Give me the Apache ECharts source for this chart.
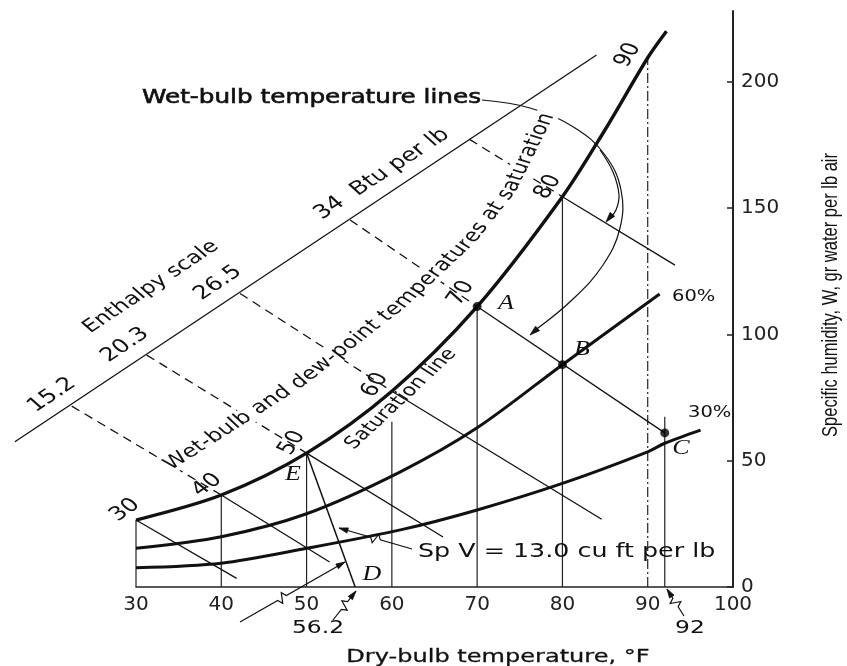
<!DOCTYPE html>
<html><head><meta charset="utf-8">
<script src="https://cdn.jsdelivr.net/npm/echarts@6/dist/echarts.min.js"></script>
<style>html,body{margin:0;padding:0;background:#fff}#c{width:847px;height:666px}</style>
</head><body><div id="c"></div>
<script>
// ---------- data ----------
const xTicks = [30, 40, 50, 60, 70, 80, 90, 100];
const yTicks = [0, 50, 100, 150, 200];
const saturationT = [30, 40, 50, 60, 70, 80, 85, 90, 92.2];
const saturationW = [26.5, 36.4, 53, 77.5, 111, 154.5, 181, 209.5, 220];
const rh60T = [30, 40, 50, 61, 70, 80, 91.4];
const rh60W = [15.3, 19.9, 29, 45.6, 63, 88, 116];
const rh30T = [30, 40, 50, 61, 70, 80, 90, 92, 96.2];
const rh30W = [7.6, 9.4, 15.3, 22.6, 30.5, 41, 53.5, 56.9, 62.1];
const dryBulbT = [30, 40, 50, 60, 70, 80, 90, 92];
const dryBulbTopW = [26.5, 36.4, 53, 65.4, 111, 154.5, 209.5, 67.4];
const wetBulbT = [30, 40, 50, 60, 70, 80];
const wetBulbSatW = [26.5, 36.4, 53, 77.5, 111, 154.5];
const wetBulbEndT = [41.8, 52.7, 66, 84.6, 92, 93.2];
const wetBulbEndW = [3.4, 9.9, 19.8, 26.8, 61, 127.4];
const enthalpyLabels = ['15.2', '20.3', '26.5', '34', ''];
const enthalpyTickT = [22.46, 31.25, 42.2, 55.1, 69.1];
const enthalpyTickW = [71.6, 91.8, 116.2, 145.3, 177.2];
const enthalpyWetBulbT = [40, 50, 60, 70, 80];
const enthalpyWetBulbW = [36.4, 53, 77.5, 111, 154.5];
const enthalpyScaleT = [15.8, 84.0];
const enthalpyScaleW = [57.5, 210.6];
const stateNames = ['A', 'B', 'C'];
const stateT = [70, 80, 92];
const stateW = [111, 88, 61];
const spVolT = [50, 55.7];
const spVolW = [53, 0];
const satLabels = ['30', '40', '50', '60', '70', '80', '90'];

// ---------- layout ----------
const GL = 136, GR = 114, GT = 11, GB = 79, W = 847;
const XMIN = 30, XMAX = 100, YMAX = 228;
const pxPerDeg = (W - GL - GR) / (XMAX - XMIN);
const X2MIN = XMIN - GL / pxPerDeg, X2MAX = XMAX + GR / pxPerDeg;

// ---------- chart ----------
const chart = echarts.init(document.getElementById('c'), null, {renderer: 'canvas'});
const K = '#111';
const pair = (ts, ws) => ts.map((t, i) => [t, ws[i]]);
function lineSeries(data, opts) {
  return Object.assign({type: 'line', data, showSymbol: false, symbol: 'none', silent: true,
    clip: false, animation: false, lineStyle: {color: K, width: 1}, z: 3}, opts);
}
const series = [];
series.push(lineSeries(pair(saturationT, saturationW), {smooth: 0.3, lineStyle: {color: K, width: 3.4}, z: 5}));
series.push(lineSeries(pair(rh60T, rh60W), {smooth: 0.3, lineStyle: {color: K, width: 3}, z: 5}));
series.push(lineSeries(pair(rh30T, rh30W), {smooth: 0.3, lineStyle: {color: K, width: 3}, z: 5}));
dryBulbT.forEach((t, i) => series.push(lineSeries([[t, 0], [t, dryBulbTopW[i]]],
  {lineStyle: {color: '#222', width: 1.2, type: t === 90 ? [10, 3, 2, 3] : 'solid'}})));
wetBulbT.forEach((t, i) => series.push(lineSeries([[t, wetBulbSatW[i]], [wetBulbEndT[i], wetBulbEndW[i]]],
  {lineStyle: {color: K, width: 1.3}})));
// lines that reach left of the dry-bulb axis use a full-width overlay grid with the same scale
enthalpyTickT.forEach((t, i) => series.push(lineSeries([[t, enthalpyTickW[i]], [enthalpyWetBulbT[i], enthalpyWetBulbW[i]]],
  {xAxisIndex: 1, yAxisIndex: 1, lineStyle: {color: K, width: 1.3, type: [9, 6]}})));
series.push(lineSeries(pair(enthalpyScaleT, enthalpyScaleW), {xAxisIndex: 1, yAxisIndex: 1, lineStyle: {color: K, width: 1.3}}));
series.push(lineSeries(pair(spVolT, spVolW), {lineStyle: {color: K, width: 1.5}}));
series.push({type: 'scatter', data: pair(stateT, stateW), symbolSize: 9, itemStyle: {color: '#000'},
  z: 6, silent: true, animation: false});

chart.setOption({
  animation: false,
  backgroundColor: '#fff',
  grid: [{left: GL, right: GR, top: GT, bottom: GB, containLabel: false, outerBoundsMode: 'none'},
         {left: 0, right: 0, top: GT, bottom: GB, containLabel: false, outerBoundsMode: 'none'}],
  xAxis: [{type: 'value', min: XMIN, max: XMAX, interval: 10,
    axisLine: {show: true, onZero: false, lineStyle: {color: '#222', width: 1.5}},
    axisTick: {show: false}, splitLine: {show: false},
    axisLabel: {customValues: xTicks, color: '#222', fontSize: 20, fontFamily: 'DejaVu Sans', margin: 8}},
    {type: 'value', gridIndex: 1, min: X2MIN, max: X2MAX, show: false, splitLine: {show: false}}],
  yAxis: [{type: 'value', position: 'right', min: 0, max: YMAX, interval: 50,
    axisLine: {show: true, lineStyle: {color: '#222', width: 2}},
    axisTick: {show: true, inside: true, length: 6, customValues: yTicks, lineStyle: {color: '#222', width: 1.5}},
    axisLabel: {customValues: yTicks, color: '#222', fontSize: 20, fontFamily: 'DejaVu Sans', margin: 8},
    splitLine: {show: false}},
    {type: 'value', gridIndex: 1, min: 0, max: YMAX, show: false, splitLine: {show: false}}],
  series
});

// ---------- annotations ----------
const G = [];
const D2R = Math.PI / 180;
const S = 1.3; // horizontal stretch of the lettering in the reference
const ctx = document.createElement('canvas').getContext('2d');
function fontStr(size, fam) { return 'normal normal ' + size + 'px ' + fam; }
function txt(text, x, y, o) {
  o = o || {};
  const size = o.size || 19, fam = o.fam || 'DejaVu Sans';
  const a = (o.ang || 0) * D2R;
  const rot = Math.atan2(S * Math.sin(a), Math.cos(a));
  G.push({type: 'group', x, y, scaleX: S, z: 100, children: [{type: 'text', rotation: rot, z: 100,
    style: {text, fill: o.color || K, fontSize: size, fontFamily: fam, fontWeight: o.weight || 'normal',
      fontStyle: o.style || 'normal', align: o.align || 'center', verticalAlign: 'middle',
      textAlign: o.align || 'center', textVerticalAlign: 'middle',
      stroke: o.stroke ? K : null, lineWidth: o.stroke || 0,
      backgroundColor: o.bg || null, padding: o.bg ? [0, 1] : 0}}]});
}
function textAlong(str, pts, o) {
  const size = o.size, fam = o.fam;
  ctx.font = fontStr(size, fam);
  const segs = []; let total = 0;
  for (let i = 1; i < pts.length; i++) {
    const dx = pts[i][0] - pts[i - 1][0], dy = pts[i][1] - pts[i - 1][1];
    const L = Math.hypot(dx, dy); segs.push({p: pts[i - 1], dx, dy, L, s0: total}); total += L;
  }
  function at(s) {
    let sg = segs[segs.length - 1];
    for (const g of segs) { if (s <= g.s0 + g.L) { sg = g; break; } }
    const f = (s - sg.s0) / sg.L;
    return [sg.p[0] + sg.dx * f, sg.p[1] + sg.dy * f, Math.atan2(-sg.dy, sg.dx)];
  }
  let s = o.start || 0;
  for (const ch of str) {
    const w0 = ctx.measureText(ch).width;
    const a = at(s + w0 / 2)[2];
    const r = Math.atan2(S * Math.sin(a), Math.cos(a));
    const w = w0 * Math.sqrt(S * S * Math.cos(r) ** 2 + Math.sin(r) ** 2);
    const p = at(s + w / 2);
    if (ch !== ' ') txt(ch, p[0], p[1], {size, fam, ang: p[2] / D2R, bg: '#fff'});
    s += w;
  }
}
function poly(points, o) {
  o = o || {};
  G.push({type: 'polyline', z: 99, shape: {points, smooth: o.smooth || 0},
    style: {stroke: K, lineWidth: o.w || 1.2, fill: null}});
}
function arrowHead(tip, from, size) {
  const dx = tip[0] - from[0], dy = tip[1] - from[1], L = Math.hypot(dx, dy);
  const ux = dx / L, uy = dy / L, nx = -uy, ny = ux; size = size || 8;
  const b = [tip[0] - ux * size, tip[1] - uy * size];
  G.push({type: 'polygon', z: 99, shape: {points: [tip, [b[0] + nx * size * 0.3, b[1] + ny * size * 0.3], [b[0] - nx * size * 0.3, b[1] - ny * size * 0.3]]},
    style: {fill: K, stroke: K, lineWidth: 0.8}});
}
function brokenLeader(p0, p1, t) {
  const dx = p1[0] - p0[0], dy = p1[1] - p0[1], L = Math.hypot(dx, dy);
  const ux = dx / L, uy = dy / L, nx = -uy, ny = ux;
  const B = [p0[0] + dx * t, p0[1] + dy * t];
  poly([p0, [B[0] - ux * 5, B[1] - uy * 5], [B[0] - ux * 2 + nx * 5, B[1] - uy * 2 + ny * 5],
    [B[0] + ux * 2 - nx * 5, B[1] + uy * 2 - ny * 5], [B[0] + ux * 5, B[1] + uy * 5], p1]);
  arrowHead(p1, p0, 9);
}

// axis titles
txt('Dry-bulb temperature, \u00B0F', 498, 657, {size: 18.5, stroke: 0.3});
txt('Specific humidity, W, gr water per lb air', 831, 295, {size: 16.5, fam: '"Liberation Sans"', ang: 90});

// big callout
txt('Wet-bulb temperature lines', 142, 98, {size: 19, align: 'left', stroke: 0.6});
poly([[482, 100], [530, 108], [575, 128], [605, 155], [621, 190], [620, 228], [603, 265], [572, 300], [534, 331]], {smooth: 0.4});
arrowHead([530, 335], [560, 309], 10);
poly([[600, 150], [613, 172], [619, 195], [616, 210], [610, 218]], {smooth: 0.4});
arrowHead([606, 222], [616, 210], 10);

// enthalpy scale texts
txt('Enthalpy scale', 151, 287, {size: 18, ang: 33.6});
const enthPos = [[52, 395], [125, 345], [218, 283]];
enthPos.forEach((p, i) => txt(enthalpyLabels[i], p[0], p[1], {size: 19, ang: 33.6}));
txt(enthalpyLabels[3] + '  Btu per lb', 382, 174, {size: 19, ang: 33});

// saturation temperature labels
const satPos = [[125, 510, 35], [207, 485, 35], [292, 443, 55], [375, 385, 55], [461, 293, 55], [548, 187, 55], [628, 55, 58]];
satPos.forEach((p, i) => txt(satLabels[i], p[0], p[1], {size: 19, ang: p[2]}));

// curved caption
textAlong('Wet-bulb and dew-point temperatures at saturation',
  [[167, 467], [300, 382], [400, 305], [470, 240], [510, 190], [540, 130]], {size: 18, fam: 'DejaVu Sans'});
txt('Saturation line', 401, 399, {size: 17, ang: 43});

// RH labels
txt('60%', 672, 297, {size: 15, align: 'left'});
txt('30%', 688, 413, {size: 15, align: 'left'});

// state labels
const stPos = [[506, 304], [582, 350], [681, 449]];
stateNames.forEach((n, i) => txt(n, stPos[i][0], stPos[i][1], {size: 20, fam: '"Liberation Serif", serif', style: 'italic'}));
txt('E', 293, 475, {size: 20, fam: '"Liberation Serif", serif', style: 'italic'});
txt('D', 372, 575, {size: 20, fam: '"Liberation Serif", serif', style: 'italic'});

// Sp V
txt('Sp V = 13.0 cu ft per lb', 418, 552, {size: 19.5, align: 'left'});
brokenLeader([412, 549], [339, 528], 0.5);
brokenLeader([240, 622], [345, 562], 0.4);
txt('56.2', 318, 628, {size: 18});
brokenLeader([333, 620], [356, 591], 0.5);
txt('92', 690, 628, {size: 18});
brokenLeader([684, 616], [667, 589], 0.5);

chart.setOption({graphic: {elements: G}});
</script></body></html>
